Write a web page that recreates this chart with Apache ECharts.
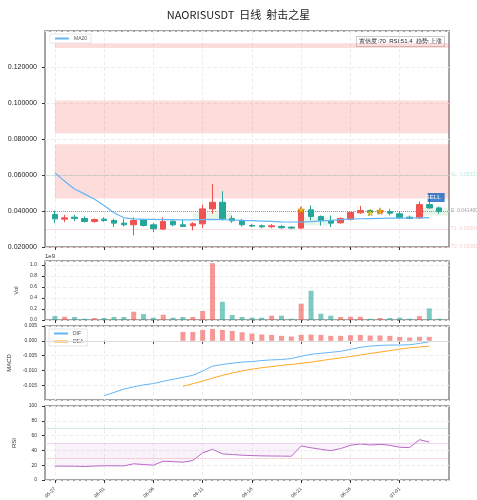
<!DOCTYPE html>
<html><head><meta charset="utf-8">
<script src="https://cdn.jsdelivr.net/npm/echarts@6/dist/echarts.min.js"></script>
<style>html,body{margin:0;padding:0;background:#fff}#c{width:477px;height:500px}</style>
</head><body><div id="c"></div>
<script>
const dates = ['05-27','05-28','05-29','05-30','05-31','06-01','06-02','06-03','06-04','06-05','06-06','06-07','06-08','06-09','06-10','06-11','06-12','06-13','06-14','06-15','06-16','06-17','06-18','06-19','06-20','06-21','06-22','06-23','06-24','06-25','06-26','06-27','06-28','06-29','06-30','07-01','07-02','07-03','07-04','07-05'];
// [open, close, low, high]
const ohlc = [
[0.03805,0.03565,0.03326,0.04026],[0.03547,0.03621,0.03381,0.03786],[0.03657,0.03584,0.03436,0.03786],[0.03584,0.03418,0.03363,0.03694],
[0.03418,0.03529,0.03344,0.03584],[0.03547,0.03473,0.03400,0.03657],[0.03473,0.03326,0.03105,0.03565],[0.03326,0.03234,0.03142,0.03565],
[0.03234,0.03473,0.02645,0.03657],[0.03510,0.03197,0.03142,0.03565],[0.03234,0.03013,0.02829,0.03326],[0.02994,0.03418,0.02958,0.03657],
[0.03436,0.03234,0.03142,0.03473],[0.03234,0.03142,0.03105,0.03510],[0.03179,0.03289,0.02921,0.03381],[0.03289,0.04118,0.03050,0.04357],
[0.04118,0.04486,0.03842,0.05500],[0.04486,0.03565,0.03473,0.05094],[0.03584,0.03455,0.03344,0.03750],[0.03473,0.03234,0.03142,0.03565],
[0.03197,0.03160,0.03105,0.03289],[0.03179,0.03123,0.03050,0.03253],[0.03123,0.03179,0.03050,0.03271],[0.03142,0.03070,0.03013,0.03216],
[0.03105,0.03050,0.02994,0.03142],[0.03050,0.04063,0.03013,0.04210],[0.04063,0.03694,0.03473,0.04302],[0.03694,0.03473,0.03197,0.03750],
[0.03473,0.03326,0.03105,0.03750],[0.03344,0.03584,0.03289,0.03640],[0.03547,0.03915,0.03473,0.03952],[0.03897,0.04026,0.03842,0.04284],
[0.04026,0.03915,0.03750,0.04063],[0.03897,0.04026,0.03842,0.04100],[0.03970,0.03878,0.03750,0.04118],[0.03842,0.03621,0.03565,0.03989],
[0.03657,0.03584,0.03547,0.03750],[0.03621,0.04357,0.03565,0.04523],[0.04357,0.04173,0.04118,0.04983],[0.04173,0.03970,0.03842,0.04247]
];
const volume = [0.072,0.060,0.054,0.024,0.036,0.036,0.054,0.054,0.150,0.108,0.042,0.096,0.042,0.054,0.054,0.163,1.030,0.330,0.090,0.054,0.042,0.042,0.078,0.078,0.024,0.295,0.530,0.114,0.078,0.054,0.060,0.060,0.024,0.036,0.036,0.042,0.024,0.072,0.210,0.024];
const ma20 = [0.0612,0.0565,0.0522,0.0495,0.0467,0.0430,0.0390,0.0362,0.0356,0.0354,0.0353,0.0352,0.0352,0.0351,0.0351,0.0352,0.0353,0.0352,0.0350,0.0348,0.0346,0.0344,0.0342,0.0340,0.0339,0.0338,0.0341,0.0345,0.0348,0.0352,0.0355,0.0357,0.0358,0.0359,0.0360,0.0360,0.0361,0.0362,0.0363,null];
const dif = [null,null,null,null,null,-0.01856,-0.01744,-0.01633,-0.01556,-0.01489,-0.01444,-0.01367,-0.01300,-0.01233,-0.01167,-0.01022,-0.00856,-0.00800,-0.00756,-0.00722,-0.00700,-0.00667,-0.00644,-0.00633,-0.00600,-0.00522,-0.00456,-0.00422,-0.00389,-0.00356,-0.00289,-0.00222,-0.00178,-0.00156,-0.00144,-0.00144,-0.00133,-0.00089,-0.00033,null];
const dea = [null,null,null,null,null,null,null,null,null,null,null,null,null,-0.0154,-0.0145,-0.0136,-0.0126,-0.0117,-0.0109,-0.0102,-0.0096,-0.0091,-0.0087,-0.0083,-0.0080,-0.0076,-0.0072,-0.0067,-0.0062,-0.0058,-0.0053,-0.0048,-0.0043,-0.0038,-0.0033,-0.0028,-0.0024,-0.0021,-0.0018,null];
const hist = [null,null,null,null,null,null,null,null,null,null,null,null,null,0.00300,0.00300,0.00367,0.00400,0.00367,0.00333,0.00289,0.00244,0.00211,0.00200,0.00167,0.00144,0.00200,0.00211,0.00200,0.00167,0.00167,0.00189,0.00200,0.00178,0.00178,0.00167,0.00133,0.00111,0.00133,0.00133,null];
const rsi = [18.8,18.7,18.6,18.3,18.8,19.2,19.2,19.0,21.9,20.9,20.0,25.4,24.8,24.1,26.3,36.6,41.5,35.3,34.4,33.5,33.0,32.6,32.4,32.3,32.1,46.0,43.5,41.5,39.7,42.4,46.9,48.7,47.3,48.2,46.9,44.2,43.8,54.5,51.3,null];
const starIdx = [25,32,33];
const starPrice = [0.0406,0.0392,0.0399];
const sellIdx = 39, sellPrice = 0.0475;
const levels = [{name:'SL',v:0.055279,c:'#26a69a'},{name:'E',v:0.041400,c:'#888888'},{name:'T1',v:0.029643,c:'#ef5350'},{name:'T2',v:0.020825,c:'#ef5350'}];
const redZones = [[0.1305,0.1332],[0.0832,0.1014],[0.0469,0.0771]];
const greenZones = [[13.5,18.3,0.0357,0.0390],[25,28,0.0320,0.0366],[36.5,39.5,0.0375,0.0417]];
const infoText = '置信度:70  RSI:51.4  趋势:上涨';

const UP='#ef5350', DN='#26a69a';
const cats = [''].concat(dates.slice(0,40)).concat(['']);
const pad = a => ['-'].concat(a.map(v=>v==null?'-':v)).concat(['-']);
const volData = pad(volume.map((v,i)=>({value:v,itemStyle:{color:ohlc[i][1]>=ohlc[i][0]?'rgba(239,83,80,0.6)':'rgba(38,166,154,0.6)'}})));
const histData = pad(hist.map(v=>v==null?null:{value:v,itemStyle:{color:v>=0?'rgba(239,83,80,0.6)':'rgba(38,166,154,0.6)'}}));
const rsiBase = pad(rsi.map(v=>v==null?null:Math.min(v,50)));
const rsiBand = pad(rsi.map(v=>v==null?null:Math.abs(v-50)));
const grids = [
 {left:45,right:28,top:31,height:216},
 {left:45,right:28,top:261,height:59},
 {left:45,right:28,top:326,height:74},
 {left:45,right:28,top:406,height:74}
];
const tickFn = (i)=> i>=1 && i<=40 && (i-1)%5===0;
const xAxes = grids.map((g,k)=>({type:'category',gridIndex:k,data:cats,boundaryGap:false,
  axisLine:{show:false},axisTick:{show:true,interval:tickFn,length:3,lineStyle:{color:'#333'}},
  axisLabel:{show:k===3,interval:tickFn,rotate:45,fontSize:5,color:'#333'},
  splitLine:{show:true,interval:tickFn,lineStyle:{color:'#eee',type:'dashed'}}}));
const yBase = {axisLine:{show:false},axisTick:{show:true,length:3,lineStyle:{color:'#333'}},splitLine:{lineStyle:{color:'#eee',type:'dashed'}},nameLocation:'middle',nameTextStyle:{fontSize:6,color:'#333'}};
const yAxes = [
 Object.assign({},yBase,{gridIndex:0,min:0.02,max:0.14,interval:0.02,name:'Price',nameGap:34,nameTextStyle:{fontSize:7,color:'#333'},axisLabel:{fontSize:7,color:'#222',formatter:v=>v.toFixed(6),showMaxLabel:false}}),
 Object.assign({},yBase,{gridIndex:1,min:0,max:1.07,interval:0.2,name:'Vol',nameGap:24,axisLabel:{fontSize:5,color:'#333',formatter:v=>v.toFixed(1),showMaxLabel:false}}),
 Object.assign({},yBase,{gridIndex:2,min:-0.02,max:0.005,interval:0.005,name:'MACD',nameGap:30,axisLabel:{fontSize:5,color:'#333',formatter:v=>v.toFixed(3),showMinLabel:false}}),
 Object.assign({},yBase,{gridIndex:3,min:0,max:100,interval:20,name:'RSI',nameGap:22,axisLabel:{fontSize:5,color:'#333'}})
];
const starPath='path://M50,0 L61,35 L98,35 L68,57 L79,91 L50,70 L21,91 L32,57 L2,35 L39,35 Z';
const opt = {
 animation:false,
 title:{text:'NAORISUSDT  日线  射击之星',left:'center',top:4,textStyle:{fontSize:11,fontWeight:'normal',color:'#222',fontFamily:'Noto Sans CJK SC'}},
 grid:grids.map(g=>Object.assign({show:true,borderColor:'#888',borderWidth:1.5,containLabel:false,outerBoundsMode:'none'},g)),
 xAxis:xAxes, yAxis:yAxes,
 legend:[{data:['MA20'],left:50,top:34,itemWidth:14,itemHeight:2,textStyle:{fontSize:5},borderColor:'#ccc',borderWidth:0.5,padding:[2,4],backgroundColor:'#fff'},
        {data:['DIF','DEA'],orient:'vertical',left:49,top:329,itemWidth:14,itemHeight:2,itemGap:3,textStyle:{fontSize:5},borderColor:'#ccc',borderWidth:0.5,padding:[2,4],backgroundColor:'#fff'}],
 graphic:[{type:'text',right:32,top:36,style:{text:infoText,fontSize:6,fill:'#222',backgroundColor:'#fff',borderColor:'#999',borderWidth:0.5,padding:[2,3]}},
          {type:'text',left:45,top:253,style:{text:'1e9',fontSize:6,fill:'#333'}}],
 series:[
  {type:'candlestick',name:'K',xAxisIndex:0,yAxisIndex:0,data:pad(ohlc),barWidth:6,
   itemStyle:{color:UP,color0:DN,borderColor:UP,borderColor0:DN,borderWidth:1},
   markArea:{silent:true,data:redZones.map(z=>[{coord:[0.5,z[0]],itemStyle:{color:'rgba(239,83,80,0.2)'}},{coord:[40.8,z[1]]}])
     .concat(greenZones.map(z=>[{coord:[z[0]+1,z[2]],itemStyle:{color:'rgba(129,199,132,0.18)'}},{coord:[z[1]+1,z[3]]}]))},
   markLine:{silent:true,symbol:'none',data:levels.map(l=>({yAxis:l.v,lineStyle:{color:l.c,type:l.name==='E'?'dotted':'solid',width:l.name==='E'?1:0.6,opacity:l.name==='E'?0.8:0.3},
     label:{position:'end',formatter:l.name+': '+l.v.toFixed(6),fontSize:5,color:l.c,distance:2}}))}},
  {type:'line',name:'MA20',xAxisIndex:0,yAxisIndex:0,data:pad(ma20),symbol:'none',lineStyle:{color:'#64b5f6',width:1.2},itemStyle:{color:'#64b5f6'}},
  {type:'scatter',name:'star',xAxisIndex:0,yAxisIndex:0,data:starIdx.map((i,k)=>[i+1,starPrice[k]]),symbol:starPath,symbolSize:7,itemStyle:{color:'#ffd600',borderColor:'#8d6e00',borderWidth:0.5}},
  {type:'scatter',name:'sell',xAxisIndex:0,yAxisIndex:0,data:[[sellIdx+1,sellPrice]],symbol:'rect',symbolSize:[17,9],symbolOffset:[-3,0],itemStyle:{color:'#1565c0'},
   label:{show:true,formatter:'SELL',color:'#fff',fontSize:6,fontWeight:'bold',offset:[-3,0]}},
  {type:'bar',name:'Vol',xAxisIndex:1,yAxisIndex:1,data:volData,barWidth:5},
  {type:'bar',name:'HIST',xAxisIndex:2,yAxisIndex:2,data:histData,barWidth:5},
  {type:'line',name:'DIF',xAxisIndex:2,yAxisIndex:2,data:pad(dif),symbol:'none',lineStyle:{color:'#64b5f6',width:1},itemStyle:{color:'#64b5f6'},
   markLine:{silent:true,symbol:'none',data:[{yAxis:0}],lineStyle:{color:'#ddd',type:'solid',width:1},label:{show:false}}},
  {type:'line',name:'DEA',xAxisIndex:2,yAxisIndex:2,data:pad(dea),symbol:'none',lineStyle:{color:'#ffa726',width:1},itemStyle:{color:'#ffa726'}},
  {type:'line',name:'rb',xAxisIndex:3,yAxisIndex:3,data:rsiBase,stack:'r',symbol:'none',lineStyle:{opacity:0},silent:true},
  {type:'line',name:'rf',xAxisIndex:3,yAxisIndex:3,data:rsiBand,stack:'r',symbol:'none',lineStyle:{opacity:0},areaStyle:{color:'rgba(186,104,200,0.12)'},silent:true},
  {type:'line',name:'RSI',xAxisIndex:3,yAxisIndex:3,data:pad(rsi),symbol:'none',lineStyle:{color:'#ba68c8',width:1},
   markLine:{silent:true,symbol:'none',label:{show:false},data:[{yAxis:70,lineStyle:{color:'#80cbc4',type:'dotted',width:0.8}},{yAxis:30,lineStyle:{color:'#ef9a9a',type:'dotted',width:0.8}},{yAxis:50,lineStyle:{color:'#e1bee7',type:'solid',width:0.6}}]}}
 ]
};
echarts.init(document.getElementById('c')).setOption(opt);
</script></body></html>
